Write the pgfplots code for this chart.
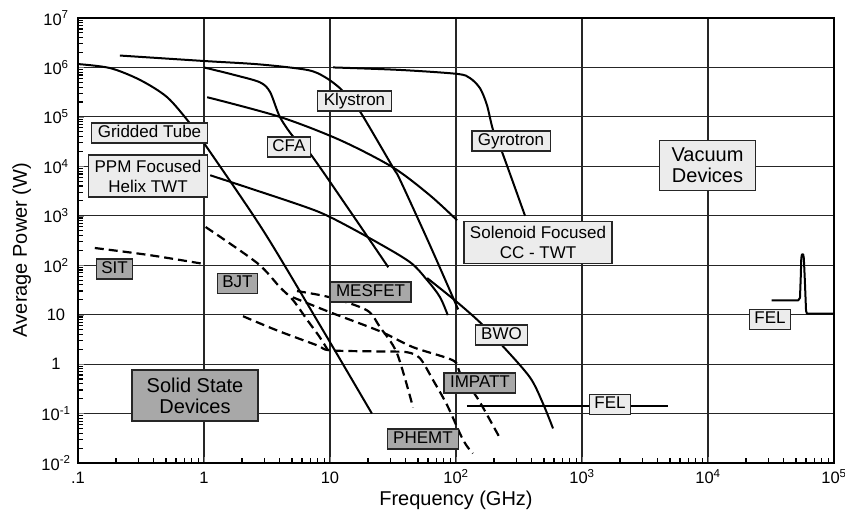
\documentclass[border=0pt]{standalone}
\usepackage{pgfplots}
\pgfplotsset{compat=1.18}
\usepackage{fontspec}
\setmainfont{Liberation Sans}
\definecolor{vac}{HTML}{ECECEC}
\definecolor{sol}{HTML}{A8A8A8}
\begin{document}
\begin{tikzpicture}[
  vbox/.style={draw=black!85, line width=1.2pt, fill=vac, font=\fontsize{17}{20}\selectfont, inner xsep=6pt, inner ysep=2pt, text height=12.5pt, text depth=3.5pt},
  sbox/.style={vbox, fill=sol},
  vbox2/.style={draw=black!85, line width=1.2pt, fill=vac, font=\fontsize{17}{20}\selectfont, inner xsep=6pt, inner ysep=4.8pt, align=center},
  bigbox/.style={draw=black!85, line width=1.4pt, font=\fontsize{20}{21}\selectfont, inner ysep=7.5pt, align=center},
]
\begin{axis}[
  name=ax,
  scale only axis, width=756pt, height=445pt,
  xmode=log, ymode=log,
  xmin=0.1, xmax=1e5, ymin=0.01, ymax=1e7,
  xtick={0.1,1,10,100,1000,10000,100000},
  xticklabels={.1,1,10,10\textsuperscript{2},10\textsuperscript{3},10\textsuperscript{4},10\textsuperscript{5}},
  ytick={0.01,0.1,1,10,100,1000,10000,100000,1000000,10000000},
  yticklabels={10\textsuperscript{-2},10\textsuperscript{-1},1,10,10\textsuperscript{2},10\textsuperscript{3},10\textsuperscript{4},10\textsuperscript{5},10\textsuperscript{6},10\textsuperscript{7}},
  minor xtick={0.2,0.3,0.4,0.5,0.6,0.7,0.8,0.9,2,3,4,5,6,7,8,9,20,30,40,50,60,70,80,90,200,300,400,500,600,700,800,900,2000,3000,4000,5000,6000,7000,8000,9000,20000,30000,40000,50000,60000,70000,80000,90000},
  minor ytick={0.02,0.03,0.04,0.05,0.06,0.07,0.08,0.09,0.2,0.3,0.4,0.5,0.6,0.7,0.8,0.9,2,3,4,5,6,7,8,9,20,30,40,50,60,70,80,90,200,300,400,500,600,700,800,900,2000,3000,4000,5000,6000,7000,8000,9000,20000,30000,40000,50000,60000,70000,80000,90000,200000,300000,400000,500000,600000,700000,800000,900000,2000000,3000000,4000000,5000000,6000000,7000000,8000000,9000000},
  tick pos=left,
  tick align=inside,
  major tick length=6pt, minor tick length=5.5pt,
  minor tick style={black, line width=1.2pt},
  grid=major,
  major grid style={line width=1.1pt, black!85},
  every tick label/.append style={font=\fontsize{16.5}{18}\selectfont},
  xticklabel style={anchor=base, yshift=-21pt},
  yticklabel style={anchor=center, xshift=-22pt},
  xlabel={Frequency (GHz)}, ylabel={Average Power (W)},
  label style={font=\fontsize{20}{22}\selectfont},
  xlabel style={at={(axis description cs:0.5,-0.0966)}, anchor=base},
  ylabel style={at={(axis description cs:-0.0675,0.4787)}, anchor=base},
  /pgf/number format/assume math mode=true,
]
% Klystron
\addplot[black, line width=2pt, smooth, tension=0.5] coordinates {(0.215,1.74e6) (1,1.35e6) (2.78,1.15e6) (6.6,8.9e5) (9.1,6.4e5) (12,3.8e5) (14.4,2.2e5) (17.4,1.26e5) (31.6,9.5e3) (36,5.3e3) (62,257) (104,12.8)};
% Gridded tube
\addplot[black, line width=2pt, smooth, tension=0.5] coordinates {(0.1,1.17e6) (0.18,9.7e5) (0.31,5.6e5) (0.51,2.5e5) (0.77,7.5e4) (1.0,2.95e4) (2.94,510) (8.3,6.2) (21.5,0.10)};
% PPM focused helix TWT
\addplot[black, line width=2pt, smooth, tension=0.5] coordinates {(1.12,6.6e3) (5.78,1.65e3) (10,944) (21.9,324) (43,116) (59,50) (74.6,22.7) (86,9.8)};
% CFA
\addplot[black, line width=2pt, smooth, tension=0.5] coordinates {(1.0,1.0e6) (1.76,7.0e5) (2.78,5.0e5) (3.34,3.2e5) (4.0,1.0e5) (5.1,4.0e4) (6.9,1.86e4) (14.4,1.25e3) (29,91)};
% Solenoid focused CC-TWT
\addplot[black, line width=2pt, smooth, tension=0.5] coordinates {(1.06,2.5e5) (4.0,1.0e5) (12,3.4e4) (31.6,9.5e3) (62,2.6e3) (102,810)};
% Gyrotron
\addplot[black, line width=2pt, smooth, tension=0.5] coordinates {(10.6,1.0e6) (36,8.9e5) (102,7.4e5) (129,6.1e5) (155,3.8e5) (176,1.74e5) (197,5.4e4) (232,1.95e4) (353,1.0e3)};
% BWO
\addplot[black, line width=2pt, smooth, tension=0.5] coordinates {(59,55) (98,19.5) (155,7.0) (232,2.4) (386,0.54) (490,0.16) (589,0.050)};
% FEL (low)
\addplot[black, line width=2pt, sharp plot] coordinates {(122,0.144) (4820,0.144)};
% FEL (high)
\addplot[black, line width=2pt, sharp plot, line join=round] coordinates {(32000,19.5) (52100,19.5) (53700,22) (54500,60) (55000,140) (55600,163) (56300,167) (57000,163) (57600,140) (58500,60) (60000,12) (61000,10.5) (100000,10.5)};
% SIT
\addplot[black, line width=2.2pt, smooth, tension=0.5, dash pattern=on 9pt off 5pt] coordinates {(0.136,223) (0.37,160) (1,106)};
% BJT
\addplot[black, line width=2.2pt, smooth, tension=0.5, dash pattern=on 9pt off 5pt] coordinates {(1.03,593) (2.64,111) (4.0,36) (5.08,19.8) (6.6,7.8) (8.3,3.5) (9.6,1.93)};
% MESFET
\addplot[black, line width=2.2pt, smooth, tension=0.5, dash pattern=on 9pt off 5pt] coordinates {(5.47,30) (10,22.4) (19.6,12.3) (24.9,5.6) (34,1.66) (45.6,0.133)};
% IMPATT
\addplot[black, line width=2.2pt, smooth, tension=0.5, dash pattern=on 9pt off 5pt] coordinates {(5.08,22.4) (10,11.2) (25,4.6) (45.6,2.2) (94.6,1.19) (107,0.68) (129,0.34) (155,0.169) (223,0.032)};
% PHEMT
\addplot[black, line width=2.2pt, smooth, tension=0.5, dash pattern=on 9pt off 5pt] coordinates {(2.04,9.3) (3.8,4.8) (7.9,2.4) (10,1.9) (25,1.8) (40.8,1.74) (51.8,1.31) (65.6,0.48) (85,0.148) (114,0.029) (136,0.0156)};
% labels
\node[vbox] at (rel axis cs:0.0946,0.7416) {Gridded Tube};
\node[vbox2] at (rel axis cs:0.0926,0.6449) {PPM Focused\\Helix TWT};
\node[vbox, inner xsep=5pt] at (rel axis cs:0.2791,0.7101) {CFA};
\node[vbox] at (rel axis cs:0.3657,0.8135) {Klystron};
\node[vbox] at (rel axis cs:0.5728,0.7236) {Gyrotron};
\node[vbox2] at (rel axis cs:0.6085,0.4955) {Solenoid Focused\\CC - TWT};
\node[bigbox, fill=vac, inner xsep=12pt] at (rel axis cs:0.8327,0.6685) {Vacuum\\Devices};
\node[vbox] at (rel axis cs:0.5602,0.2876) {BWO};
\node[vbox, inner xsep=5pt] at (rel axis cs:0.7037,0.1315) {FEL};
\node[vbox, inner xsep=5pt] at (rel axis cs:0.9153,0.3225) {FEL};
\node[sbox, inner xsep=5pt] at (rel axis cs:0.0483,0.4360) {SIT};
\node[sbox, inner xsep=5pt] at (rel axis cs:0.2110,0.4034) {BJT};
\node[sbox] at (rel axis cs:0.3869,0.3843) {MESFET};
\node[sbox] at (rel axis cs:0.5317,0.1798) {IMPATT};
\node[sbox] at (rel axis cs:0.4563,0.0539) {PHEMT};
\node[bigbox, fill=sol, inner xsep=14.5pt] at (rel axis cs:0.1548,0.1517) {Solid State\\Devices};
\end{axis}
\draw[line width=2.6pt] (ax.south west) rectangle (ax.north east);
\pgfresetboundingbox
\useasboundingbox ([xshift=-78pt,yshift=-52pt]ax.south west) rectangle ([xshift=11pt,yshift=18pt]ax.north east);
\end{tikzpicture}
\end{document}
